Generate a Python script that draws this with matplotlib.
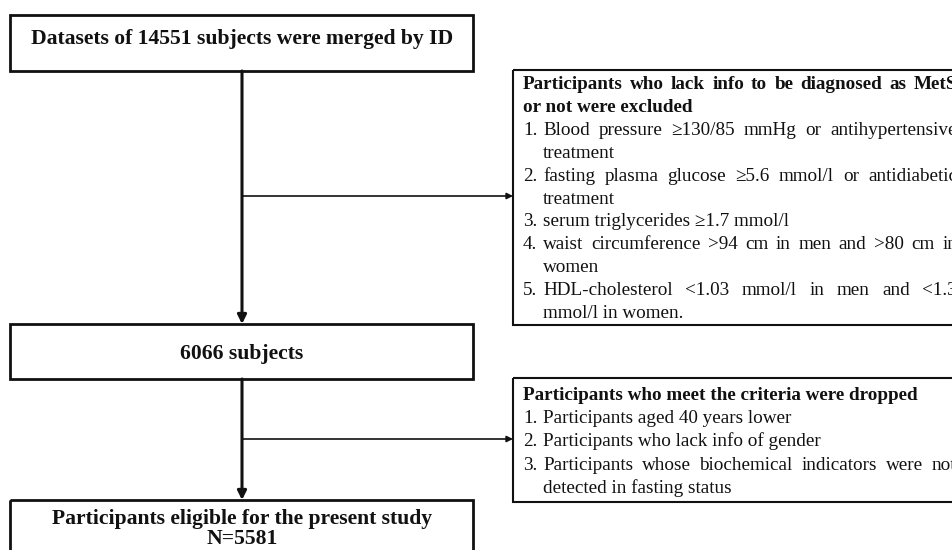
import matplotlib
matplotlib.use("Agg")
import matplotlib.pyplot as plt
from matplotlib.patches import Rectangle

plt.rcParams['font.family'] = ['Liberation Serif', 'DejaVu Serif']

# flowchart texts
main_steps = [
    ["Datasets of 14551 subjects were merged by ID"],
    ["6066 subjects"],
    ["Participants eligible for the present study", "N=5581"],
]

excl1_title = ["Participants who lack info to be diagnosed as MetS",
               "or not were excluded"]
excl1_items = [
    ("1.", ["Blood pressure \u2265130/85 mmHg or antihypertensive", "treatment"]),
    ("2.", ["fasting plasma glucose \u22655.6 mmol/l or antidiabetic", "treatment"]),
    ("3.", ["serum triglycerides \u22651.7 mmol/l"]),
    ("4.", ["waist circumference >94 cm in men and >80 cm in", "women"]),
    ("5.", ["HDL-cholesterol <1.03 mmol/l in men and <1.3", "mmol/l in women."]),
]

excl2_title = ["Participants who meet the criteria were dropped"]
excl2_items = [
    ("1.", ["Participants aged 40 years lower"]),
    ("2.", ["Participants who lack info of gender"]),
    ("3.", ["Participants whose biochemical indicators were not",
            "detected in fasting status"]),
]

W, H = 953, 550
fig = plt.figure(figsize=(W / 100, H / 100), dpi=100)
ax = fig.add_axes([0, 0, 1, 1])
ax.set_xlim(0, W)
ax.set_ylim(H, 0)
ax.axis('off')
renderer = fig.canvas.get_renderer()

INK = '#111111'
BIG = 15.6
SMALL = 13.8


def justify(line, x0, x1, y, **kw):
    # spread the words of one line between x0 and x1
    words = line.split(' ')
    texts = [ax.text(0, y, w, va='baseline', ha='left', color=INK, **kw) for w in words]
    widths = [t.get_window_extent(renderer).width for t in texts]
    gap = (x1 - x0 - sum(widths)) / max(len(words) - 1, 1)
    x = x0
    for t, w in zip(texts, widths):
        t.set_x(x)
        x += w + gap


def put(line, x, y, just=None, **kw):
    if just is None:
        ax.text(x, y, line, va='baseline', ha='left', color=INK, **kw)
    else:
        justify(line, x, just, y, **kw)


def side_box(x0, y0, y1, title, items, base, step, right, just_title):
    ax.add_patch(Rectangle((x0, y0), 1000 - x0, y1 - y0, fill=False,
                           lw=1.5, ec=INK))
    y = base
    for i, line in enumerate(title):
        jr = right if (just_title and i < len(title) - 1) else None
        put(line, x0 + 10, y, just=jr, fontsize=SMALL, fontweight='bold')
        y += step
    for num, lines in items:
        ax.text(x0 + 10, y, num, va='baseline', ha='left', color=INK, fontsize=SMALL)
        for i, line in enumerate(lines):
            jr = right if i < len(lines) - 1 else None
            put(line, x0 + 30, y, just=jr, fontsize=SMALL)
            y += step


# main column boxes
cx = 242
boxes = [(15, 71), (324, 379), (500, 580)]
for (top, bot), lines in zip(boxes, main_steps):
    ax.add_patch(Rectangle((10, top), 463, bot - top, fill=False, lw=2.0, ec=INK))
for (top, bot), lines, base in zip(boxes, main_steps, [44, 359, 524]):
    for k, line in enumerate(lines):
        ax.text(cx, base + k * 20, line, ha='center', va='baseline',
                fontsize=BIG, fontweight='bold', color=INK)

# vertical connectors
for a, b in [(71, 324), (379, 500)]:
    ax.annotate('', xy=(cx, b), xytext=(cx, a),
                arrowprops=dict(arrowstyle='-|>', lw=2.2, color=INK,
                                mutation_scale=13, shrinkA=0, shrinkB=0))

# side arrows
for yy in [196, 439]:
    ax.annotate('', xy=(513, yy), xytext=(cx, yy),
                arrowprops=dict(arrowstyle='-|>', lw=1.2, color=INK,
                                mutation_scale=9, shrinkA=0, shrinkB=0))

side_box(513, 70, 325, excl1_title, excl1_items, 89, 22.9, 957, True)
side_box(513, 378, 502, excl2_title, excl2_items, 400, 23.2, 956, False)

fig.savefig('out.png', dpi=100)
